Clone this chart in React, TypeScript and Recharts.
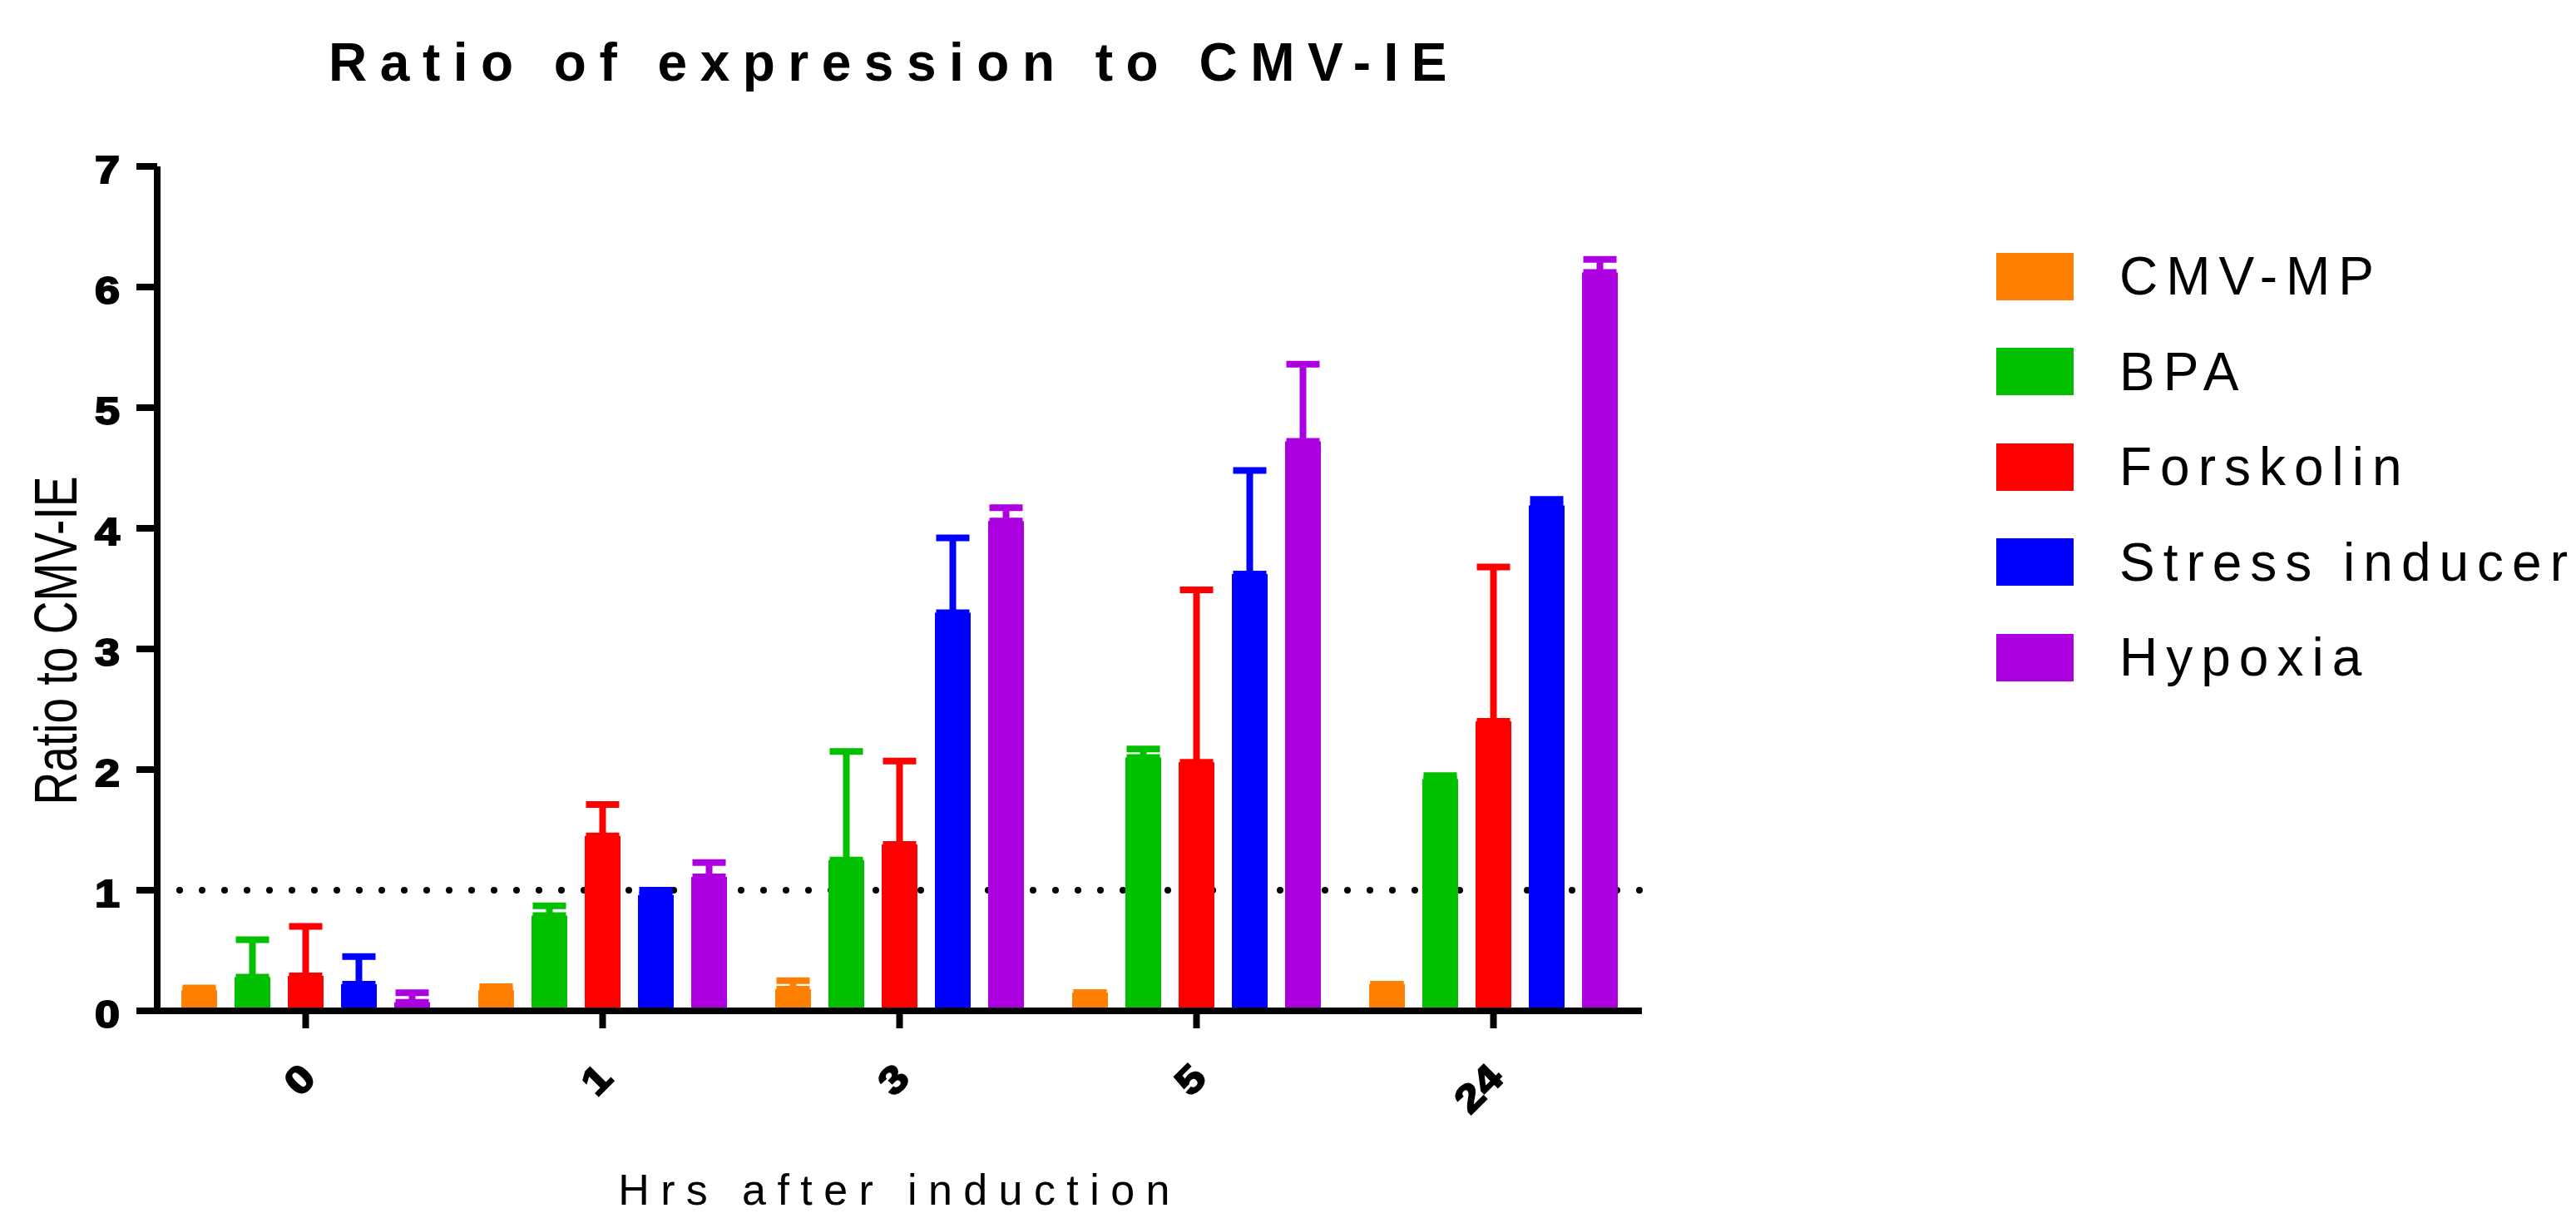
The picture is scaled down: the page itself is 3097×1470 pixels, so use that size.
import { BarChart, Bar, XAxis, YAxis, ErrorBar, ReferenceLine, Legend } from 'recharts';

const hours = ['0', '1', '3', '5', '24'];
const seriesNames = ['CMV-MP', 'BPA', 'Forskolin', 'Stress inducer', 'Hypoxia'];
const seriesKeys = ['cmv', 'bpa', 'forskolin', 'stress', 'hypoxia'];
const seriesColors = ['#FF8000', '#00C000', '#FF0000', '#0000FF', '#AC00E0'];

// bar heights (mean) per hour
const cmvMp = [0.17, 0.17, 0.18, 0.15, 0.22];
const bpa = [0.28, 0.79, 1.25, 2.1, 1.92];
const forskolin = [0.29, 1.45, 1.38, 2.06, 2.4];
const stressInducer = [0.22, 0.96, 3.3, 3.62, 4.19];
const hypoxia = [0.07, 1.11, 4.06, 4.72, 6.12];

// upper error (drawn only above the bar)
const cmvMpErr = [0.02, 0.03, 0.07, 0, 0];
const bpaErr = [0.31, 0.08, 0.9, 0.07, 0.03];
const forskolinErr = [0.41, 0.26, 0.69, 1.43, 1.28];
const stressInducerErr = [0.23, 0.04, 0.62, 0.86, 0.05];
const hypoxiaErr = [0.08, 0.12, 0.11, 0.64, 0.11];

const yTicks = [0, 1, 2, 3, 4, 5, 6, 7];

const seriesValues = [cmvMp, bpa, forskolin, stressInducer, hypoxia];
const seriesErrors = [cmvMpErr, bpaErr, forskolinErr, stressInducerErr, hypoxiaErr];

const rows = hours.map((h, i) => {
  const row: Record<string, any> = { hour: h };
  seriesKeys.forEach((k, s) => {
    row[k] = seriesValues[s][i];
    row[k + 'Err'] = [0, seriesErrors[s][i]];
  });
  return row;
});

const FONT = '"Liberation Sans", Arial, sans-serif';
const DIGIT_W = 30; // heavy, wide digits like the original

function XTick({ x, y, payload }: any) {
  const ax = x + 3;
  const s = String(payload.value);
  return (
    <text
      x={ax}
      y={y}
      transform={`rotate(-45 ${ax} ${y})`}
      textAnchor="end"
      dominantBaseline="central"
      fontFamily={FONT}
      fontWeight="bold"
      fontSize={46}
      textLength={DIGIT_W * s.length}
      lengthAdjust="spacingAndGlyphs"
      fill="#000"
      stroke="#000"
      strokeWidth={2}
    >
      {s}
    </text>
  );
}

function YTick({ x, y, payload }: any) {
  const s = String(payload.value);
  return (
    <text
      x={x}
      y={y + 4}
      textAnchor="end"
      dominantBaseline="central"
      fontFamily={FONT}
      fontWeight="bold"
      fontSize={46}
      textLength={DIGIT_W * s.length}
      lengthAdjust="spacingAndGlyphs"
      fill="#000"
      stroke="#000"
      strokeWidth={2}
    >
      {s}
    </text>
  );
}

function YLabel() {
  return (
    <text
      x={66}
      y={770}
      transform="rotate(-90 66 770)"
      textAnchor="middle"
      dominantBaseline="central"
      fontFamily={FONT}
      fontSize={73}
      textLength={395}
      lengthAdjust="spacingAndGlyphs"
      fill="#000"
    >
      Ratio to CMV-IE
    </text>
  );
}

function XLabel({ viewBox }: any) {
  const cx = viewBox.x + viewBox.width / 2;
  return (
    <text
      x={cx}
      y={1430}
      textAnchor="middle"
      dominantBaseline="central"
      fontFamily={FONT}
      fontSize={52}
      letterSpacing={13.4}
      fill="#000"
    >
      Hrs after induction
    </text>
  );
}

function LegendBox({ payload }: any) {
  const items = [...(payload || [])].sort(
    (a: any, b: any) => seriesNames.indexOf(a.value) - seriesNames.indexOf(b.value)
  );
  return (
    <div>
      {items.map((entry: any) => (
        <div key={entry.value} style={{ display: 'flex', alignItems: 'center', height: 114.5 }}>
          <span style={{ width: 93, height: 57, background: entry.color, display: 'inline-block' }} />
          <span
            style={{
              marginLeft: 55,
              fontFamily: FONT,
              fontSize: 64,
              letterSpacing: 10,
              color: '#000',
              whiteSpace: 'nowrap',
            }}
          >
            {entry.value}
          </span>
        </div>
      ))}
    </div>
  );
}

export default function App() {
  return (
    <div style={{ position: 'absolute', left: 0, top: 0, width: 3097, height: 1470, background: '#fff' }}>
      <div
        style={{
          position: 'absolute',
          left: 0,
          top: 43,
          width: 2150,
          textAlign: 'center',
          fontFamily: FONT,
          fontWeight: 'bold',
          fontSize: 64,
          lineHeight: 1,
          letterSpacing: 15.5,
          color: '#000',
          whiteSpace: 'nowrap',
        }}
      >
        Ratio of expression to CMV-IE
      </div>
      <BarChart
        width={3097}
        height={1470}
        data={rows}
        margin={{ top: 200, right: 1123, bottom: 0, left: 0 }}
        barGap={21}
      >
        <ReferenceLine
          y={1}
          stroke="#000"
          strokeWidth={8}
          strokeDasharray="0 27"
          strokeLinecap="round"
          zIndex={100}
        />
        {seriesKeys.map((k, s) => (
          <Bar
            key={k}
            dataKey={k}
            name={seriesNames[s]}
            fill={seriesColors[s]}
            barSize={43}
            isAnimationActive={false}
          >
            <ErrorBar
              dataKey={k + 'Err'}
              direction="y"
              width={20}
              strokeWidth={8}
              stroke={seriesColors[s]}
            />
          </Bar>
        ))}
        <XAxis
          dataKey="hour"
          height={255}
          axisLine={{ stroke: '#000', strokeWidth: 8 }}
          tickLine={{ stroke: '#000', strokeWidth: 8 }}
          tickSize={21}
          tickMargin={51}
          tick={<XTick />}
          interval={0}
          label={<XLabel />}
        />
        <YAxis
          width={189}
          domain={[0, 7]}
          ticks={yTicks}
          interval={0}
          axisLine={{ stroke: '#000', strokeWidth: 8 }}
          tickLine={{ stroke: '#000', strokeWidth: 8 }}
          tickSize={25}
          tickMargin={20}
          tick={<YTick />}
          label={<YLabel />}
        />
        <Legend
          layout="vertical"
          align="center"
          verticalAlign="middle"
          wrapperStyle={{ left: 2400, top: 275, width: 697 }}
          content={<LegendBox />}
        />
      </BarChart>
    </div>
  );
}
